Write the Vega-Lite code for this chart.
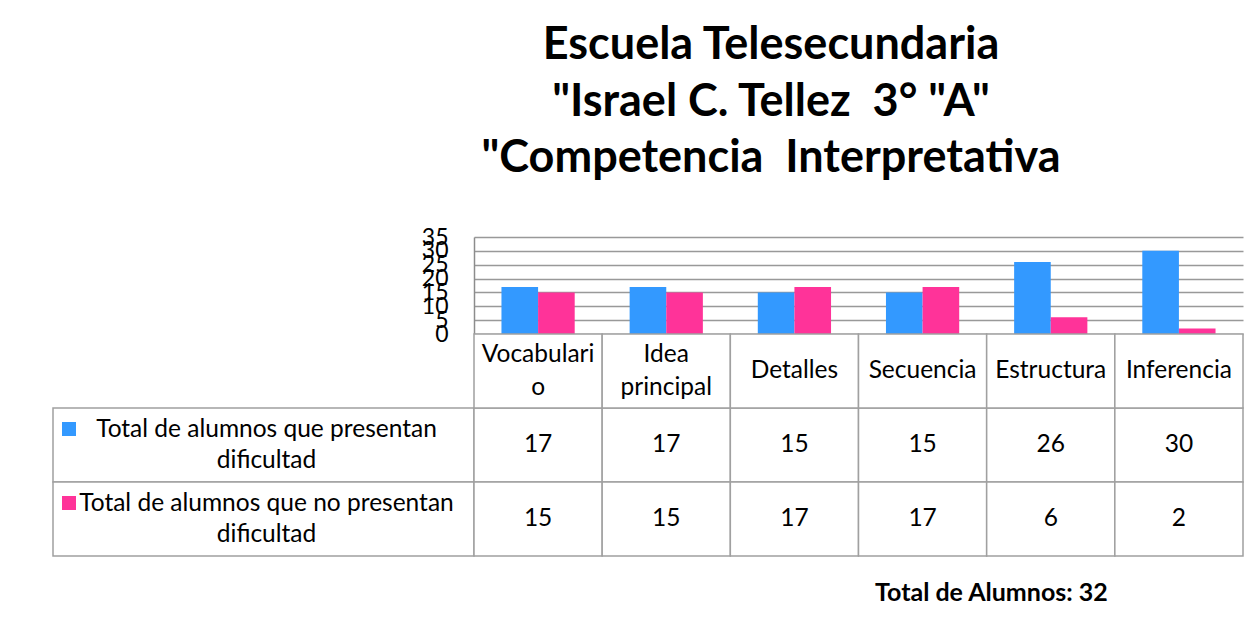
{
  "$schema": "https://vega.github.io/schema/vega-lite/v6.json",
  "background": "white",
  "padding": {"left": 52, "top": 23, "right": 10, "bottom": 10},
  "spacing": 0,
  "bounds": "flush",
  "title": {
    "text": ["Escuela Telesecundaria", "\"Israel C. Tellez\u00a0 3° \"A\"", "\"Competencia\u00a0 Interpretativa"],
    "anchor": "middle",
    "dx": 123,
    "offset": 45,
    "font": "Lato",
    "fontSize": 45,
    "fontWeight": "bold",
    "lineHeight": 56.5,
    "color": "#000000"
  },
  "datasets": {
    "scores": [
      {"categoria": "Vocabulario", "serie": "Total de alumnos que presentan dificultad", "valor": 17},
      {"categoria": "Idea principal", "serie": "Total de alumnos que presentan dificultad", "valor": 17},
      {"categoria": "Detalles", "serie": "Total de alumnos que presentan dificultad", "valor": 15},
      {"categoria": "Secuencia", "serie": "Total de alumnos que presentan dificultad", "valor": 15},
      {"categoria": "Estructura", "serie": "Total de alumnos que presentan dificultad", "valor": 26},
      {"categoria": "Inferencia", "serie": "Total de alumnos que presentan dificultad", "valor": 30},
      {"categoria": "Vocabulario", "serie": "Total de alumnos que no presentan dificultad", "valor": 15},
      {"categoria": "Idea principal", "serie": "Total de alumnos que no presentan dificultad", "valor": 15},
      {"categoria": "Detalles", "serie": "Total de alumnos que no presentan dificultad", "valor": 17},
      {"categoria": "Secuencia", "serie": "Total de alumnos que no presentan dificultad", "valor": 17},
      {"categoria": "Estructura", "serie": "Total de alumnos que no presentan dificultad", "valor": 6},
      {"categoria": "Inferencia", "serie": "Total de alumnos que no presentan dificultad", "valor": 2}
    ],
    "categorias": [
      {"categoria": "Vocabulario", "etiqueta": "Vocabulari\no"},
      {"categoria": "Idea principal", "etiqueta": "Idea\nprincipal"},
      {"categoria": "Detalles", "etiqueta": "Detalles"},
      {"categoria": "Secuencia", "etiqueta": "Secuencia"},
      {"categoria": "Estructura", "etiqueta": "Estructura"},
      {"categoria": "Inferencia", "etiqueta": "Inferencia"}
    ],
    "series": [
      {"serie": "Total de alumnos que presentan dificultad", "etiqueta": "Total de alumnos que presentan\ndificultad"},
      {"serie": "Total de alumnos que no presentan dificultad", "etiqueta": "Total de alumnos que no presentan\ndificultad"}
    ]
  },
  "hconcat": [
    {
      "width": 421,
      "height": 319,
      "data": {"name": "series"},
      "layer": [
        {
          "mark": {"type": "rect", "fill": "white", "stroke": "#a0a0a0", "strokeWidth": 1.5},
          "encoding": {
            "y": {
              "field": "serie", "type": "nominal",
              "scale": {"domain": ["encabezado", "Total de alumnos que presentan dificultad", "Total de alumnos que no presentan dificultad"], "range": [97, 319], "paddingInner": 0, "paddingOuter": 0},
              "axis": null
            }
          }
        },
        {
          "mark": {"type": "text", "font": "Lato", "fontSize": 24.5, "lineBreak": "\n", "lineHeight": 31, "align": "center", "baseline": "middle", "dx": 3, "dy": -15.5, "color": "#000000"},
          "encoding": {
            "y": {"field": "serie", "type": "nominal", "axis": null},
            "text": {"field": "etiqueta"}
          }
        }
      ]
    },
    {
      "width": 769,
      "height": 319,
      "title": {"text": "Total de Alumnos: 32", "orient": "bottom", "anchor": "end", "dx": -136, "offset": 24, "font": "Lato", "fontSize": 25, "fontWeight": "bold", "color": "#000000"},
      "resolve": {"scale": {"y": "independent"}},
      "layer": [
        {
          "data": {"name": "scores"},
          "mark": {"type": "bar"},
          "encoding": {
            "x": {
              "field": "categoria", "type": "nominal",
              "scale": {"type": "band", "domain": ["Vocabulario", "Idea principal", "Detalles", "Secuencia", "Estructura", "Inferencia"], "paddingInner": 0, "paddingOuter": 0},
              "axis": null
            },
            "xOffset": {
              "field": "serie", "type": "nominal",
              "scale": {"domain": ["Total de alumnos que presentan dificultad", "Total de alumnos que no presentan dificultad"], "paddingInner": 0, "paddingOuter": 0.75}
            },
            "y": {
              "field": "valor", "type": "quantitative",
              "scale": {"domain": [0, 35], "range": [97, 0], "nice": false},
              "axis": {
                "values": [0, 5, 10, 15, 20, 25, 30, 35],
                "title": null,
                "ticks": false,
                "labelFontSize": 23,
                "labelFont": "Lato",
                "labelColor": "#000000",
                "labelPadding": 26,
                "labelOverlap": false,
                "labelFlush": false,
                "labelBound": false,
                "domainColor": "#8c8c8c",
                "domainWidth": 1.5,
                "grid": true,
                "gridColor": "#999999",
                "gridWidth": 1.5
              }
            },
            "color": {
              "field": "serie", "type": "nominal",
              "scale": {"domain": ["Total de alumnos que presentan dificultad", "Total de alumnos que no presentan dificultad"], "range": ["#3399ff", "#ff3399"]},
              "legend": {
                "orient": "none",
                "legendX": 9,
                "legendY": 185,
                "title": null,
                "direction": "vertical",
                "symbolType": "square",
                "symbolSize": 196,
                "symbolStrokeWidth": 0,
                "labelExpr": "''",
                "labelFontSize": 1,
                "rowPadding": 60,
                "padding": 0
              }
            }
          }
        },
        {
          "layer": [
            {
              "data": {"name": "scores"},
              "mark": {"type": "rect", "fill": "white", "stroke": "#a0a0a0", "strokeWidth": 1.5},
              "encoding": {
                "x": {"field": "categoria", "type": "nominal", "axis": null},
                "y": {
                  "field": "serie", "type": "nominal",
                  "scale": {"domain": ["encabezado", "Total de alumnos que presentan dificultad", "Total de alumnos que no presentan dificultad"], "range": [97, 319], "paddingInner": 0, "paddingOuter": 0},
                  "axis": null
                }
              }
            },
            {
              "data": {"name": "categorias"},
              "mark": {"type": "rect", "fill": "white", "stroke": "#a0a0a0", "strokeWidth": 1.5},
              "encoding": {
                "x": {"field": "categoria", "type": "nominal", "axis": null},
                "y": {"datum": "encabezado", "type": "nominal", "axis": null}
              }
            },
            {
              "data": {"name": "scores"},
              "mark": {"type": "text", "font": "Lato", "fontSize": 24.5, "align": "center", "baseline": "middle", "color": "#000000"},
              "encoding": {
                "x": {"field": "categoria", "type": "nominal", "axis": null},
                "y": {"field": "serie", "type": "nominal", "axis": null},
                "text": {"field": "valor", "type": "quantitative"}
              }
            },
            {
              "data": {"name": "categorias"},
              "transform": [{"filter": "indexof(datum.etiqueta, '\\n') < 0"}],
              "mark": {"type": "text", "font": "Lato", "fontSize": 24.5, "align": "center", "baseline": "middle", "color": "#000000"},
              "encoding": {
                "x": {"field": "categoria", "type": "nominal", "axis": null},
                "y": {"datum": "encabezado", "type": "nominal", "axis": null},
                "text": {"field": "etiqueta"}
              }
            },
            {
              "data": {"name": "categorias"},
              "transform": [{"filter": "indexof(datum.etiqueta, '\\n') >= 0"}],
              "mark": {"type": "text", "font": "Lato", "fontSize": 24.5, "lineBreak": "\n", "lineHeight": 33, "align": "center", "baseline": "middle", "dy": -16.5, "color": "#000000"},
              "encoding": {
                "x": {"field": "categoria", "type": "nominal", "axis": null},
                "y": {"datum": "encabezado", "type": "nominal", "axis": null},
                "text": {"field": "etiqueta"}
              }
            }
          ]
        }
      ]
    }
  ],
  "config": {
    "view": {"stroke": null},
    "font": "Lato"
  }
}
